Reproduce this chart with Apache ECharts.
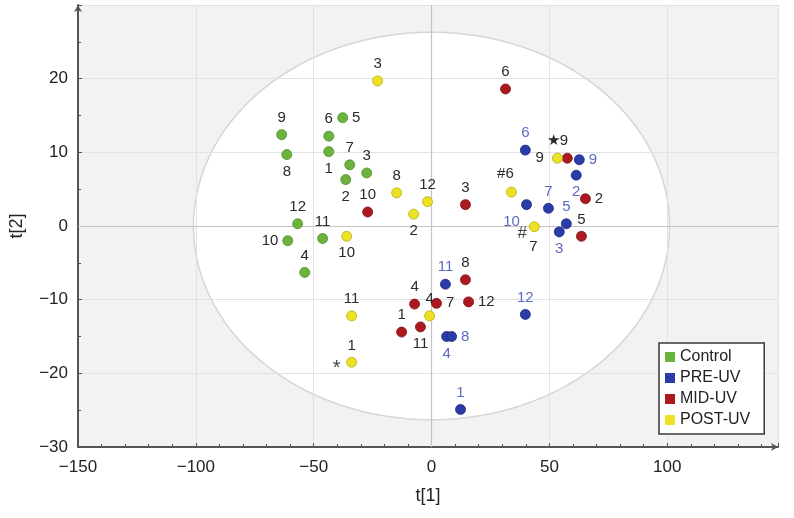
<!DOCTYPE html>
<html><head><meta charset="utf-8">
<script src="https://cdn.jsdelivr.net/npm/echarts@6/dist/echarts.min.js"></script>
<style>html,body{margin:0;padding:0;background:#fff}#c{width:794px;height:518px}</style>
</head><body><div id="c"></div><script>
// ---- data ----
const seriesNames = ['Control', 'PRE-UV', 'MID-UV', 'POST-UV'];
const xTickLabels = [-150, -100, -50, 0, 50, 100];
const yTickLabels = [-30, -20, -10, 0, 10, 20];

const controlX = [-43.6, -36.4, -27.5, -53.8, -37.7, -43.6, -34.7, -61.4, -63.6, -61.0, -46.2, -56.8];
const controlY = [10.1, 6.3, 7.2, -6.3, 14.7, 12.2, 8.3, 9.7, 12.4, -2.0, -1.7, 0.3];
const controlLbl = ['1','2','3','4','5','6','7','8','9','10','11','12'];

const preX = [12.3, 61.4, 54.2, 6.4, 57.2, 39.8, 49.6, 8.5, 62.7, 40.3, 5.9, 39.8];
const preY = [-24.9, 6.9, -0.8, -15.0, 0.3, 10.3, 2.4, -15.0, 9.0, 2.9, -7.9, -12.0];
const preLbl = ['1','2','3','4','5','6','7','8','9','10','11','12'];

const midX = [-12.7, 65.3, 14.4, -7.2, 63.6, 31.4, 2.1, 14.4, 57.6, -27.1, -4.7, 15.7];
const midY = [-14.4, 3.7, 2.9, -10.6, -1.4, 18.6, -10.5, -7.3, 9.2, 1.9, -13.7, -10.3];
const midLbl = ['1','2','3','4','5','6','7','8','9','10','11','12'];

const postX = [-33.9, -7.6, -22.9, -0.8, 33.9, 43.6, -14.8, 53.4, -36.0, -33.9, -1.7];
const postY = [-18.5, 1.6, 19.7, -12.2, 4.6, -0.1, 4.5, 9.2, -1.4, -12.2, 3.3];
const postLbl = ['1','2','3','4','#6','7','8','\u26059','10','11','12'];

// extra marks attached to POST-UV points (index into postX/postY)
const noteIdx = [0, 5];
const noteLbl = ['*', '#'];

// Hotelling ellipse semi-axes
const ellipseA = [101];
const ellipseB = [26.3];

// ---- label placement (layout, not data) ----
const posControl = ['bottom','bottom','top','top','right','top','top','bottom','top','left','top','top'];
const posPre = ['top','bottom','bottom','bottom','top','top','top','right','right','bl','top','top'];
const posMid = ['top','right','top','top','top','top','right','top','farleft','top','bottom','right'];
const posPost = ['top','bottom','top','top','tl','bsr','top','top','bottom','top','top'];
const posNote = ['starleft', 'hashleft'];

const FONT = 'Liberation Sans, Arial, Helvetica, sans-serif';
const colors = ['#6cb33e', '#2b3ca8', '#ac1a1f', '#ece125'];
const borders = ['#4f8f2a', '#1c2a80', '#7c1014', '#b8ad10'];
const lblColors = ['#2a2a2a', '#5a6bc0', '#2a2a2a', '#2a2a2a'];

function labelFor(p) {
  switch (p) {
    case 'bl': return { position: 'inside', offset: [-15, 17] };
    case 'farleft': return { position: 'left', distance: 18 };
    case 'tl': return { position: 'top', offset: [-6, 0] };
    case 'bsr': return { position: 'bottom', offset: [-1, 2] };
    case 'starleft': return { position: 'inside', offset: [-15, 6], fontSize: 20 };
    case 'hashleft': return { position: 'inside', offset: [-12, 7], fontSize: 17 };
    default: return { position: p, distance: 4 };
  }
}

function buildData(xs, ys, lbls, pos) {
  return xs.map((x, i) => ({
    value: [x, ys[i]],
    label: Object.assign({ show: true, formatter: lbls[i] }, labelFor(pos[i]))
  }));
}

function scatter(idx, xs, ys, lbls, pos) {
  return {
    name: seriesNames[idx], type: 'scatter', z: 5,
    symbol: 'circle', symbolSize: 10,
    itemStyle: { color: colors[idx], borderColor: borders[idx], borderWidth: 0.8, opacity: 1 },
    label: { show: true, color: lblColors[idx], fontSize: 15, fontFamily: FONT },
    emphasis: { disabled: true },
    data: buildData(xs, ys, lbls, pos)
  };
}

const option = {
  animation: false,
  backgroundColor: '#ffffff',
  grid: { left: 77, right: 16, top: 5, bottom: 71, show: true, backgroundColor: '#f2f2f2', borderWidth: 0 },
  legend: {
    orient: 'vertical', left: 659, top: 343,
    backgroundColor: '#ffffff', borderColor: '#3a3a3a', borderWidth: 1.5, borderRadius: 0,
    padding: [6, 14, 6, 6], itemGap: 5, itemWidth: 10, itemHeight: 10, icon: 'rect',
    itemStyle: { borderWidth: 0 },
    textStyle: { fontSize: 16, color: '#222', fontFamily: FONT },
    data: seriesNames
  },
  xAxis: {
    type: 'value', min: -150, max: 147, interval: 50, z: 3,
    name: 't[1]', nameLocation: 'middle', nameGap: 40,
    nameTextStyle: { fontSize: 18, color: '#222', fontFamily: FONT },
    axisLine: { show: true, onZero: false, symbol: ['none', 'arrow'], symbolSize: [6, 7], lineStyle: { color: '#555', width: 2 } },
    axisTick: { show: true, inside: true, length: 4, lineStyle: { color: '#555' } },
    minorTick: { show: true, splitNumber: 5, length: 3, lineStyle: { color: '#555' } },
    axisLabel: { fontSize: 17, color: '#222', fontFamily: FONT, margin: 12, showMaxLabel: false,
      formatter: v => xTickLabels.includes(v) ? (v < 0 ? '\u2212' + Math.abs(v) : String(v)) : '' },
    splitLine: { show: true, lineStyle: { color: '#e2e2e2', width: 1 } }
  },
  yAxis: {
    type: 'value', min: -30, max: 30, interval: 10, z: 3,
    name: 't[2]', nameLocation: 'middle', nameGap: 52, nameRotate: 90,
    nameTextStyle: { fontSize: 18, color: '#222', fontFamily: FONT },
    axisLine: { show: true, onZero: false, symbol: ['none', 'arrow'], symbolSize: [6, 7], lineStyle: { color: '#555', width: 2 } },
    axisTick: { show: true, inside: true, length: 4, lineStyle: { color: '#555' } },
    minorTick: { show: true, splitNumber: 2, length: 3, lineStyle: { color: '#555' } },
    axisLabel: { fontSize: 17, color: '#222', fontFamily: FONT, margin: 10, showMaxLabel: false,
      formatter: v => yTickLabels.includes(v) ? (v < 0 ? '\u2212' + Math.abs(v) : String(v)) : '' },
    splitLine: { show: true, lineStyle: { color: '#e2e2e2', width: 1 } }
  },
  series: [
    {
      name: 'ellipse', type: 'custom', z: 1, silent: true,
      data: [[ellipseA[0], ellipseB[0]]],
      renderItem: function (params, api) {
        const a = api.value(0), b = api.value(1);
        const pts = [];
        for (let k = 0; k < 180; k++) {
          const t = k / 180 * Math.PI * 2;
          pts.push(api.coord([a * Math.cos(t), b * Math.sin(t)]));
        }
        return { type: 'polygon', shape: { points: pts },
          style: { fill: '#ffffff', stroke: '#d6d6d6', lineWidth: 1.5 } };
      },
      markLine: {
        silent: true, symbol: ['none', 'none'], label: { show: false },
        lineStyle: { color: '#c4c4c4', width: 1.2, type: 'solid' },
        data: [{ xAxis: 0 }, { yAxis: 0 }]
      }
    },
    scatter(0, controlX, controlY, controlLbl, posControl),
    scatter(1, preX, preY, preLbl, posPre),
    scatter(2, midX, midY, midLbl, posMid),
    scatter(3, postX, postY, postLbl, posPost),
    {
      name: 'notes', type: 'scatter', z: 6, symbol: 'circle', symbolSize: 1, silent: true,
      itemStyle: { color: 'rgba(0,0,0,0)' },
      label: { show: true, color: '#111', fontSize: 15, fontFamily: FONT },
      data: noteIdx.map((k, i) => ({
        value: [postX[k], postY[k]],
        label: Object.assign({ show: true, formatter: noteLbl[i] }, labelFor(posNote[i]))
      }))
    }
  ]
};

const chart = echarts.init(document.getElementById('c'), null, { renderer: 'canvas' });
chart.setOption(option);
</script></body></html>
